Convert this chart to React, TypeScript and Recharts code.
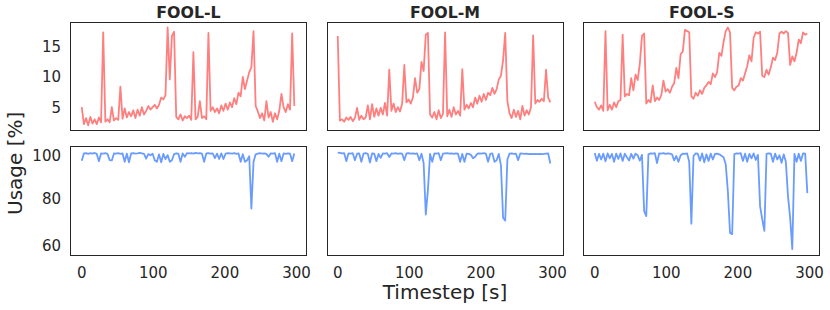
import { LineChart, Line, XAxis, YAxis } from 'recharts';

// ---------------------------------------------------------------------------
// Data (sampled every 3 s, read off the reference)
// ---------------------------------------------------------------------------

const TIMESTEPS = Array.from({ length: 100 }, (_, i) => i * 3);

const TITLES = ['FOOL-L', 'FOOL-M', 'FOOL-S'];
const X_TICKS = [0, 100, 200, 300];
const TOP_TICKS = [5, 10, 15];
const BOTTOM_TICKS = [60, 80, 100];

// top row (red)
const TOP_L = [
  5.0, 2.2, 3.2, 2.0, 3.4, 2.3, 3.0, 2.2, 3.3, 2.5,
  17.4, 2.6, 3.0, 2.5, 5.0, 2.8, 3.2, 2.9, 8.4, 3.1,
  4.8, 3.3, 4.2, 3.5, 4.5, 3.2, 4.6, 3.6, 5.0, 3.8,
  4.4, 5.2, 4.6, 5.0, 5.4, 4.8, 5.4, 6.6, 6.3, 7.0,
  18.2, 9.6, 16.8, 17.5, 3.4, 3.0, 3.8, 2.8, 3.5, 3.2,
  3.6, 2.9, 14.1, 3.0, 3.4, 6.0, 3.2, 3.5, 3.0, 17.3,
  4.4, 5.0, 4.2, 4.8, 4.0, 5.3, 4.4, 5.6, 4.6, 5.8,
  5.0, 6.5, 5.5, 7.4, 6.8, 10.0, 8.0, 9.4, 10.8, 11.6,
  17.6, 5.2, 4.3, 3.2, 4.0, 2.8, 6.0, 3.3, 4.2, 2.6,
  4.0, 3.0, 4.4, 7.2, 5.0, 4.2, 5.5, 4.6, 17.2, 5.2,
];

const TOP_M = [
  16.8, 2.8, 3.0, 2.6, 3.3, 2.9, 3.4, 2.7, 3.2, 4.9,
  2.9, 3.6, 3.0, 3.3, 5.3, 3.0, 5.5, 3.4, 4.8, 3.6,
  4.9, 3.8, 5.7, 3.6, 11.2, 4.4, 5.6, 4.2, 5.0, 4.3,
  5.6, 12.0, 5.8, 6.3, 5.6, 6.6, 9.8, 7.4, 8.0, 12.5,
  11.0, 17.0, 17.3, 3.8, 3.3, 4.2, 3.0, 4.5, 3.2, 3.9,
  17.4, 3.5, 4.6, 3.4, 5.0, 3.8, 4.4, 3.6, 11.3, 4.6,
  5.4, 4.8, 5.7, 5.0, 6.6, 5.6, 6.9, 5.9, 7.2, 6.2,
  7.4, 7.0, 8.2, 7.2, 8.0, 9.6, 10.2, 12.8, 17.3, 6.0,
  4.0, 3.2, 4.6, 3.4, 4.4, 3.0, 5.2, 3.6, 4.5, 3.8,
  5.0, 16.9, 5.6, 6.2, 5.9, 6.4, 6.0, 11.2, 6.6, 5.8,
];

const TOP_S = [
  5.9, 5.0, 4.6, 5.3, 4.4, 17.6, 4.5, 5.4, 4.6, 5.8,
  5.0, 6.0, 6.2, 17.0, 6.8, 7.2, 7.0, 9.8, 7.8, 10.4,
  9.5, 12.2, 16.8, 17.2, 5.6, 6.2, 5.8, 8.6, 6.0, 6.6,
  6.2, 7.0, 9.4, 7.6, 8.0, 7.4, 8.4, 9.0, 11.5, 9.8,
  13.8, 14.2, 17.8, 17.6, 17.4, 6.8, 6.4, 7.4, 6.9, 7.8,
  7.2, 8.2, 8.6, 9.2, 8.8, 10.6, 10.0, 10.8, 14.0, 13.5,
  15.8, 17.6, 18.2, 17.4, 8.2, 7.8, 8.4, 8.6, 9.8, 9.4,
  10.6, 11.8, 13.6, 12.6, 16.5, 17.4, 17.2, 17.5, 10.2, 10.0,
  11.2, 10.4, 11.6, 13.2, 12.8, 14.0, 17.2, 17.5, 17.2, 17.6,
  17.3, 12.0, 13.4, 12.6, 14.0, 16.2, 15.6, 17.4, 17.0, 17.2,
];

// bottom row (blue)
const BOT_L = [
  96.5, 99.6, 99.7, 99.4, 99.7, 99.5, 99.8, 99.4, 96.3, 99.6,
  99.5, 99.7, 99.4, 96.7, 96.6, 99.6, 99.5, 99.7, 99.4, 99.6,
  96.0, 99.5, 95.8, 99.6, 99.7, 99.5, 99.6, 99.8, 99.6, 99.4,
  97.4, 99.3, 98.8, 99.5, 96.7, 96.0, 99.2, 95.8, 99.4, 97.2,
  98.9, 96.0, 96.7, 99.3, 99.6, 99.5, 96.0, 99.6, 98.2, 99.7,
  99.6, 99.7, 99.5, 99.8, 99.6, 99.7, 99.5, 96.0, 99.6, 99.7,
  99.5, 99.6, 97.6, 99.5, 97.2, 99.6, 97.2, 99.5, 99.7, 99.6,
  99.5, 99.7, 99.4, 99.6, 96.0, 99.3, 96.0, 96.7, 98.4, 76.0,
  96.0, 99.2, 99.5, 99.7, 99.5, 99.6, 99.4, 98.2, 99.6, 99.5,
  99.7, 96.0, 99.5, 96.3, 99.6, 99.4, 99.6, 99.5, 96.3, 99.6,
];

const BOT_M = [
  100.0, 99.8, 99.6, 99.7, 96.3, 99.6, 99.5, 99.7, 96.7, 99.5,
  99.6, 96.0, 99.5, 99.7, 99.4, 95.7, 99.6, 99.5, 96.3, 99.4,
  97.7, 99.6, 99.5, 99.7, 98.1, 99.6, 99.5, 99.7, 99.4, 99.6,
  99.5, 96.7, 99.6, 99.7, 99.5, 99.6, 99.4, 99.6, 96.7, 99.5,
  95.5, 73.4, 84.0, 99.4, 96.0, 99.6, 99.5, 99.7, 96.7, 99.5,
  99.6, 99.7, 99.5, 99.6, 99.4, 99.6, 99.5, 96.0, 99.4, 96.0,
  99.5, 99.4, 99.0, 97.5, 98.2, 99.5, 99.6, 99.5, 99.7, 99.5,
  96.0, 99.4, 99.6, 96.0, 96.7, 99.4, 94.5, 72.0, 70.8, 97.0,
  99.5, 99.6, 99.4, 99.5, 96.7, 99.6, 99.5, 99.4, 99.5, 99.3,
  99.4, 99.3, 99.4, 99.3, 99.4, 99.3, 99.4, 99.5, 99.6, 95.3,
];

const BOT_S = [
  99.8, 96.5, 99.4, 97.0, 99.5, 96.2, 99.6, 97.5, 99.4, 96.0,
  99.5, 97.2, 99.6, 96.4, 99.5, 98.0, 96.6, 99.4, 97.4, 99.5,
  98.8, 96.5, 99.0, 75.0, 72.7, 99.2, 99.6, 99.5, 99.7, 95.5,
  99.6, 99.5, 99.7, 99.4, 99.6, 99.5, 99.2, 96.6, 98.5, 96.0,
  98.8, 99.5, 99.4, 99.6, 96.0, 69.5, 98.5, 99.6, 99.5, 96.5,
  99.6, 95.8, 99.2, 96.4, 99.5, 97.0, 99.4, 99.5, 99.2, 98.6,
  98.0, 95.0, 83.3, 65.5, 65.0, 99.3, 99.6, 99.5, 99.7, 96.4,
  99.5, 96.0, 99.4, 97.5, 99.6, 96.8, 99.0, 77.0, 71.3, 66.4,
  99.4, 99.6, 99.5, 96.0, 99.5, 97.0, 98.8, 95.6, 99.2, 96.0,
  81.2, 72.0, 58.6, 99.4, 96.0, 99.5, 96.4, 99.6, 99.5, 82.6,
];

// ---------------------------------------------------------------------------
// Layout / style
// ---------------------------------------------------------------------------

const FONT = '"DejaVu Sans", sans-serif';
const INK = '#262626';
const RED = '#FF7F7F';
const BLUE = '#6A9CFF';

const COL_X = [70.7, 327.3, 584.0];
const PANEL_W = 235.5;
const ROW_Y = [22.7, 147];
const ROW_H = [107.3, 108];
const Y_AXIS_W = 60;
const X_AXIS_H = 30;
const RIGHT_PAD = 20; // room for the "300" tick label

const X_DOMAIN: [number, number] = [-15, 314];
const TOP_DOMAIN: [number, number] = [1.18, 18.94];
const BOTTOM_DOMAIN: [number, number] = [56.06, 102.36];

interface PanelProps {
  values: number[];
  color: string;
  col: number;
  row: number;
  domain: [number, number];
  ticks: number[];
}

function Panel({ values, color, col, row, domain, ticks }: PanelProps) {
  const data = TIMESTEPS.map((t, i) => ({ t, v: values[i] }));
  const fx = COL_X[col];
  const fy = ROW_Y[row];
  const fh = ROW_H[row];
  const showY = col === 0;
  const showX = row === 1;
  const tickStyle = { fill: INK, fontSize: 15, fontFamily: FONT };

  return (
    <>
      <div style={{ position: 'absolute', left: fx - Y_AXIS_W, top: fy }}>
        <LineChart
          width={Y_AXIS_W + PANEL_W + RIGHT_PAD}
          height={fh + X_AXIS_H}
          data={data}
          margin={{ top: 0, right: RIGHT_PAD, bottom: 0, left: 0 }}
        >
          <XAxis
            dataKey="t"
            type="number"
            domain={X_DOMAIN}
            ticks={X_TICKS}
            height={X_AXIS_H}
            axisLine={false}
            tickLine={false}
            tickMargin={6}
            interval={0}
            tick={showX ? tickStyle : false}
          />
          <YAxis
            type="number"
            domain={domain}
            ticks={ticks}
            width={Y_AXIS_W}
            axisLine={false}
            tickLine={false}
            tickMargin={4}
            tick={showY ? tickStyle : false}
            allowDataOverflow
          />
          <Line
            type="linear"
            dataKey="v"
            stroke={color}
            strokeWidth={1.8}
            strokeLinejoin="round"
            dot={false}
            isAnimationActive={false}
          />
        </LineChart>
      </div>
      <div
        style={{
          position: 'absolute',
          left: fx - 0.75,
          top: fy - 0.75,
          width: PANEL_W + 1.5,
          height: fh + 1.5,
          boxSizing: 'border-box',
          border: `1.5px solid ${INK}`,
          pointerEvents: 'none',
        }}
      />
    </>
  );
}

export default function App() {
  const tops = [TOP_L, TOP_M, TOP_S];
  const bots = [BOT_L, BOT_M, BOT_S];

  return (
    <div
      style={{
        position: 'absolute',
        left: 0,
        top: 0,
        width: 830,
        height: 310,
        background: '#fff',
        fontFamily: FONT,
        overflow: 'hidden',
      }}
    >
      {tops.map((vals, c) => (
        <Panel key={`t${c}`} values={vals} color={RED} col={c} row={0} domain={TOP_DOMAIN} ticks={TOP_TICKS} />
      ))}
      {bots.map((vals, c) => (
        <Panel key={`b${c}`} values={vals} color={BLUE} col={c} row={1} domain={BOTTOM_DOMAIN} ticks={BOTTOM_TICKS} />
      ))}

      {/* titles and axis labels */}
      <svg
        width={830}
        height={310}
        style={{ position: 'absolute', left: 0, top: 0, pointerEvents: 'none' }}
      >
        {TITLES.map((title, c) => (
          <text
            key={title}
            x={COL_X[c] + PANEL_W / 2}
            y={18.3}
            textAnchor="middle"
            fontFamily={FONT}
            fontWeight="bold"
            fontSize={15.8}
            fill={INK}
          >
            {title}
          </text>
        ))}
        <text
          x={COL_X[1] + PANEL_W / 2}
          y={299}
          textAnchor="middle"
          fontFamily={FONT}
          fontSize={20}
          fill={INK}
        >
          Timestep [s]
        </text>
        <text
          transform="translate(22, 163.3) rotate(-90)"
          textAnchor="middle"
          fontFamily={FONT}
          fontSize={20}
          fill={INK}
        >
          Usage [%]
        </text>
      </svg>
    </div>
  );
}
